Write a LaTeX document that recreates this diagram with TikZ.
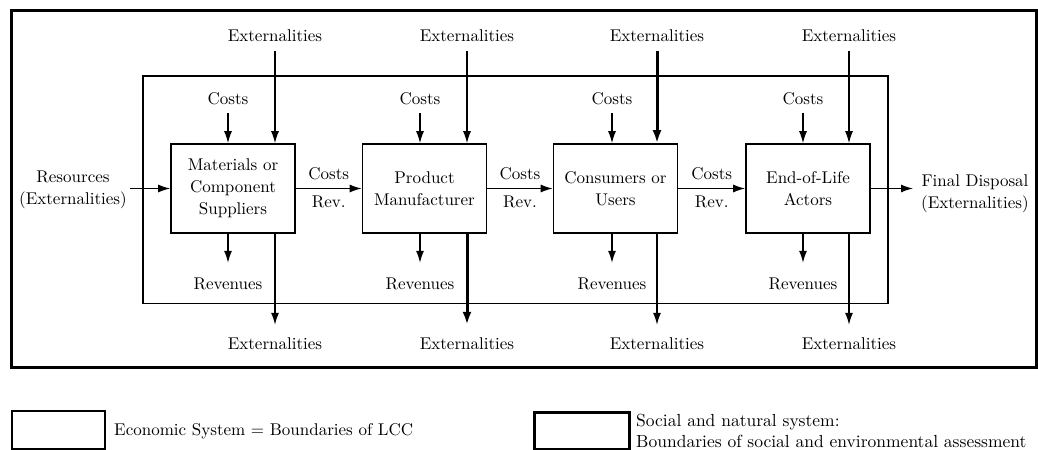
\documentclass[tikz,border=0pt]{standalone}
\usepackage{fontspec}
\setmainfont{lmroman10-regular.otf}[BoldFont=lmroman10-bold.otf]
\usetikzlibrary{arrows.meta}
\tikzset{
  lbl/.style={inner sep=0pt, align=center, font=\fontsize{17bp}{22bp}\selectfont},
  procbox/.style={draw, line width=1.6bp, minimum width=124bp, minimum height=89bp,
    inner sep=0pt, align=center, font=\fontsize{17bp}{22bp}\selectfont},
  arr/.style={line width=1.3bp, -{Latex[length=12bp,width=8bp]}},
  thickarr/.style={line width=3bp, -{Latex[length=13bp,width=9bp]}},
  legbox/.style={draw, inner sep=0pt, anchor=north west},
}
\begin{document}
\begin{tikzpicture}[x=1bp,y=-1bp]
\useasboundingbox (0,0) rectangle (1038,450);
\fill[white] (0,0) rectangle (1038,450);

% frames
\draw[line width=3bp] (11,11) rectangle (1036.5,368);
\draw[line width=1.5bp] (143,76) rectangle (888,303.5);

% process boxes
\node[procbox] (b1) at (233,188.5) {Materials or\\Component\\Suppliers};
\node[procbox] (b2) at (424.5,188.5) {Product\\Manufacturer};
\node[procbox] (b3) at (615.5,188.5) {Consumers or\\Users};
\node[procbox] (b4) at (808,188.5) {End-of-Life\\Actors};

% costs labels
\node[lbl] (c1) at (228,99) {Costs};
\node[lbl] (c2) at (420,99) {Costs};
\node[lbl] (c3) at (612,99) {Costs};
\node[lbl] (c4) at (803,99) {Costs};
% top externalities
\node[lbl] (et1) at (275,36) {Externalities};
\node[lbl] (et2) at (467,36) {Externalities};
\node[lbl] (et3) at (657,36) {Externalities};
\node[lbl] (et4) at (849,36) {Externalities};
% revenues
\node[lbl] (r1) at (228,284) {Revenues};
\node[lbl] (r2) at (420,284) {Revenues};
\node[lbl] (r3) at (612,284) {Revenues};
\node[lbl] (r4) at (803,284) {Revenues};
% bottom externalities
\node[lbl] (eb1) at (275,343.5) {Externalities};
\node[lbl] (eb2) at (467,343.5) {Externalities};
\node[lbl] (eb3) at (657,343.5) {Externalities};
\node[lbl] (eb4) at (849,343.5) {Externalities};

% side texts
\node[lbl] (res) at (73,190) {Resources\\(Externalities)};
\node[lbl, anchor=west] (fd) at (921,193.5) {Final Disposal\\(Externalities)};

% costs and revenues arrows
\foreach \i in {1,2,3,4}{
  \draw[arr, shorten <=8bp] (c\i) -- (c\i |- b\i.north);
  \draw[arr, shorten >=15bp] (b\i.south -| r\i) -- (r\i);
}
% externalities arrows
\draw[arr, shorten <=9bp] (et1) -- (et1 |- b1.north);
\draw[arr, shorten <=9bp] (et2) -- (et2 |- b2.north);
\draw[thickarr, shorten <=9bp] (et3) -- (et3 |- b3.north);
\draw[arr, shorten <=9bp] (et4) -- (et4 |- b4.north);
\draw[arr, shorten >=12.5bp] (b1.south -| eb1) -- (eb1);
\draw[thickarr, shorten >=12.5bp] (b2.south -| eb2) -- (eb2);
\draw[arr, shorten >=12.5bp] (b3.south -| eb3) -- (eb3);
\draw[arr, shorten >=12.5bp] (b4.south -| eb4) -- (eb4);

% flow arrows
\draw[arr, shorten <=3bp] (b1.west -| res.east) -- (b1.west);
\draw[arr] (b1) -- (b2)
  node[midway, lbl, above=8bp] (cr12) {Costs}
  node[midway, lbl, below=7bp] (rv12) {Rev.};
\draw[arr] (b2) -- (b3)
  node[midway, lbl, above=8bp] (cr23) {Costs}
  node[midway, lbl, below=7bp] (rv23) {Rev.};
\draw[arr] (b3) -- (b4)
  node[midway, lbl, above=8bp] (cr34) {Costs}
  node[midway, lbl, below=7bp] (rv34) {Rev.};
\draw[arr, shorten >=8bp] (b4.east) -- (b4.east -| fd.west);

% legend
\node[legbox, line width=1.8bp, minimum width=93bp, minimum height=38bp] (lg1) at (11,410) {};
\node[lbl, anchor=west] (lt1) at (114,431) {Economic System = Boundaries of LCC};
\node[legbox, line width=3.2bp, minimum width=95bp, minimum height=37bp] (lg2) at (533,411) {};
\node[lbl, anchor=west, align=left, font=\fontsize{17.5bp}{21bp}\selectfont] (lt2) at (636,430.5)
  {Social and natural system:\\Boundaries of social and environmental assessment};
\end{tikzpicture}
\end{document}
